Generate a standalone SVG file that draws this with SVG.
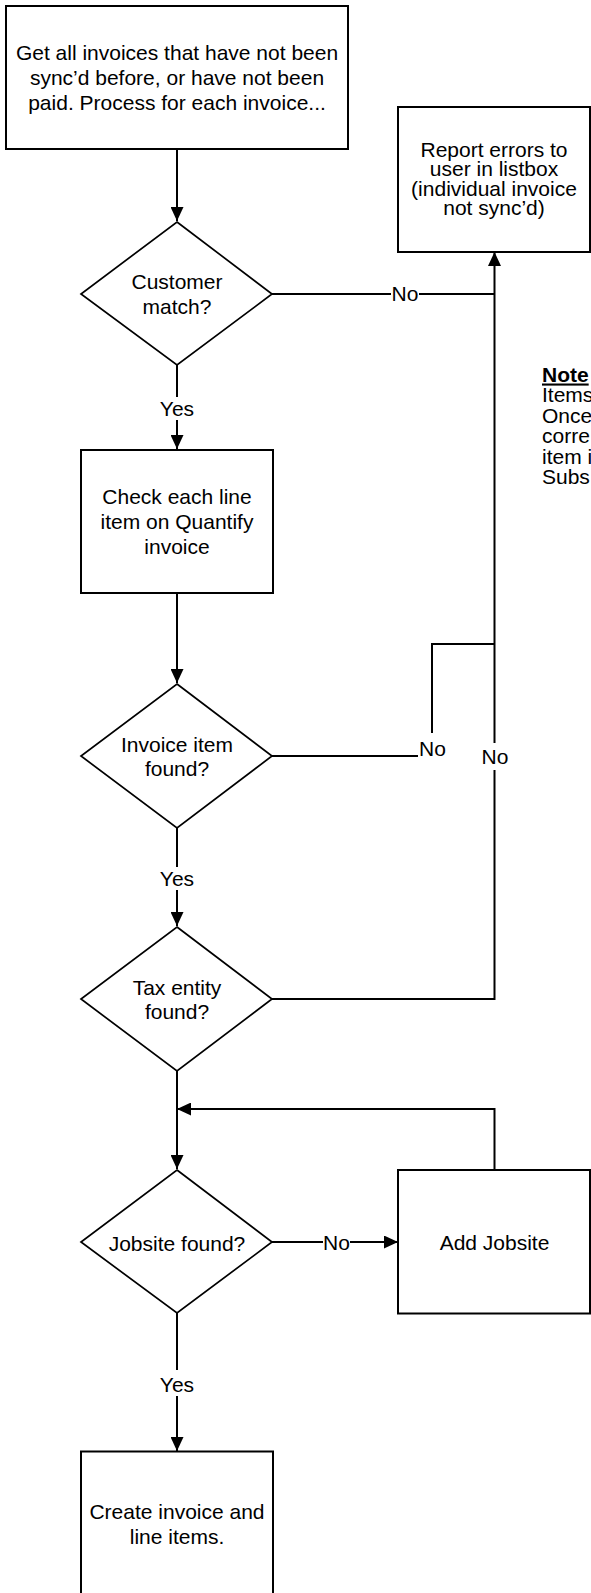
<svg xmlns="http://www.w3.org/2000/svg" width="591" height="1593" viewBox="0 0 591 1593">
<style>
.box{fill:#fff;stroke:#000;stroke-width:2}
.dia{fill:#fff;stroke:#000;stroke-width:1.7}
.t{font-family:"Liberation Sans",Arial,sans-serif;font-size:21px;fill:#000;text-anchor:middle}
.n{font-family:"Liberation Sans",Arial,sans-serif;font-size:21px;fill:#000}
.c{fill:none;stroke:#000;stroke-width:2}
.lb{fill:#fff;stroke:none}
</style>
<defs>
<marker id="arr" markerWidth="14" markerHeight="13" refX="14" refY="6.5" orient="auto" markerUnits="userSpaceOnUse"><path d="M0,0 L14,6.5 L0,13 Z" fill="#000"/></marker>
</defs>
<rect width="591" height="1593" fill="#fff"/>
<g id="connectors">
<path class="c" d="M177,149 V221" marker-end="url(#arr)"/>
<path class="c" d="M177,365 V449" marker-end="url(#arr)"/>
<path class="c" d="M272,294 H494.5"/>
<path class="c" d="M177,593 V683" marker-end="url(#arr)"/>
<path class="c" d="M272,756 H432 V644 H494.5"/>
<path class="c" d="M177,828 V926" marker-end="url(#arr)"/>
<path class="c" d="M272,999 H494.5 V252" marker-end="url(#arr)"/>
<path class="c" d="M177,1071 V1169" marker-end="url(#arr)"/>
<path class="c" d="M494.5,1170 V1109 H177" marker-end="url(#arr)"/>
<path class="c" d="M272,1242 H398" marker-end="url(#arr)"/>
<path class="c" d="M177,1313 V1451" marker-end="url(#arr)"/>
<rect class="lb" x="159" y="397" width="36" height="23"/>
<text class="t" x="177" y="416">Yes</text>
<rect class="lb" x="391" y="283" width="28" height="22"/>
<text class="t" x="405" y="301">No</text>
<rect class="lb" x="418" y="733" width="29" height="26"/>
<text class="t" x="432.5" y="756">No</text>
<rect class="lb" x="481" y="743" width="28" height="27"/>
<text class="t" x="495" y="764">No</text>
<rect class="lb" x="159" y="867" width="36" height="23"/>
<text class="t" x="177" y="886">Yes</text>
<rect class="lb" x="323" y="1231" width="27" height="22"/>
<text class="t" x="336.5" y="1250">No</text>
<rect class="lb" x="159" y="1370" width="36" height="26"/>
<text class="t" x="177" y="1391.5">Yes</text>
</g>
<g id="start">
<rect class="box" x="6" y="6" width="342" height="143"/>
<text class="t"><tspan x="177" y="60">Get all invoices that have not been</tspan><tspan x="177" y="85">sync’d before, or have not been</tspan><tspan x="177" y="110">paid. Process for each invoice...</tspan></text>
</g>
<g id="report">
<rect class="box" x="398" y="107" width="192" height="145"/>
<text class="t"><tspan x="494" y="156.5">Report errors to</tspan><tspan x="494" y="176">user in listbox</tspan><tspan x="494" y="195.5">(individual invoice</tspan><tspan x="494" y="215">not sync’d)</tspan></text>
</g>
<g id="note">
<text class="n"><tspan x="542" y="381.5" font-weight="bold" text-decoration="underline">Note</tspan><tspan x="542" y="402">Items</tspan><tspan x="542" y="422.5">Once</tspan><tspan x="542" y="443">corre</tspan><tspan x="542" y="463.5">item i</tspan><tspan x="542" y="484">Subs</tspan></text>
</g>
<g id="customer">
<polygon class="dia" points="177,222 272,294 177,365 81,294"/>
<text class="t"><tspan x="177" y="288.5">Customer</tspan><tspan x="177" y="314">match?</tspan></text>
</g>
<g id="check">
<rect class="box" x="81" y="450" width="192" height="143"/>
<text class="t"><tspan x="177" y="504">Check each line</tspan><tspan x="177" y="529">item on Quantify</tspan><tspan x="177" y="554">invoice</tspan></text>
</g>
<g id="invoiceitem">
<polygon class="dia" points="177,684 272,756 177,828 81,756"/>
<text class="t"><tspan x="177" y="751.5">Invoice item</tspan><tspan x="177" y="776">found?</tspan></text>
</g>
<g id="tax">
<polygon class="dia" points="177,927 272,999 177,1071 81,999"/>
<text class="t"><tspan x="177" y="995">Tax entity</tspan><tspan x="177" y="1019">found?</tspan></text>
</g>
<g id="jobsite">
<polygon class="dia" points="177,1170 272,1242 177,1313 81,1242"/>
<text class="t" x="177" y="1250.5">Jobsite found?</text>
</g>
<g id="addjobsite">
<rect class="box" x="398" y="1170" width="192" height="143.5"/>
<text class="t" x="494.5" y="1250">Add Jobsite</text>
</g>
<g id="create">
<rect class="box" x="81" y="1451.5" width="192" height="144"/>
<text class="t"><tspan x="177" y="1519">Create invoice and</tspan><tspan x="177" y="1544">line items.</tspan></text>
</g>
</svg>
